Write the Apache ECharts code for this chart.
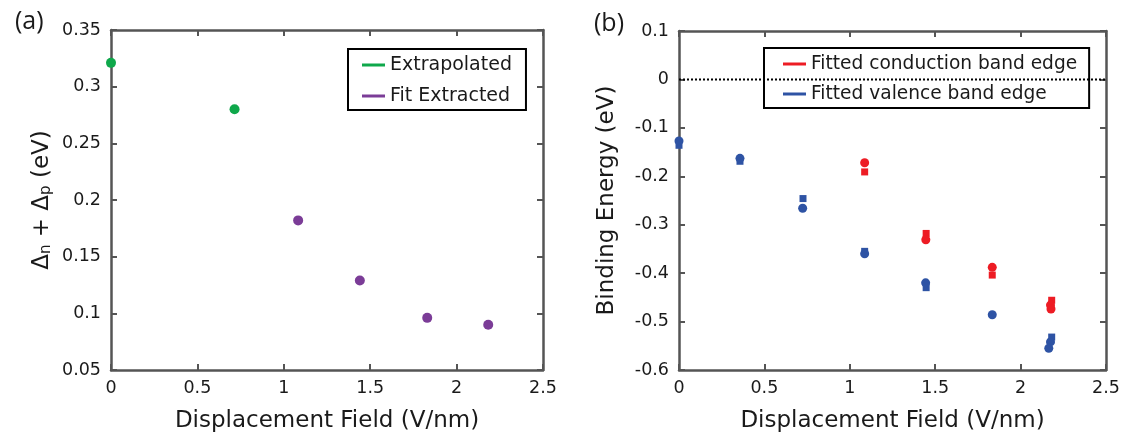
<!DOCTYPE html>
<html>
<head>
<meta charset="utf-8">
<script src="https://cdn.jsdelivr.net/npm/echarts@6/dist/echarts.min.js"></script>
<style>
html,body{margin:0;padding:0;background:#fff;}
#chart{width:1135px;height:441px;}
</style>
</head>
<body>
<div id="chart"></div>
<script>
// ---- data ----
const xTicks = [0, 0.5, 1, 1.5, 2, 2.5];
const yTicksA = [0.05, 0.1, 0.15, 0.2, 0.25, 0.3, 0.35];
const yTicksB = [-0.6, -0.5, -0.4, -0.3, -0.2, -0.1, 0, 0.1];

// panel (a)
const fieldExtrap = [0, 0.715];
const gapExtrap = [0.321, 0.280];
const fieldFit = [1.083, 1.440, 1.830, 2.183];
const gapFit = [0.182, 0.129, 0.096, 0.090];

// panel (b)
const cbCircleField = [1.087, 1.445, 1.834, 2.175, 2.178];
const cbCircleE = [-0.172, -0.331, -0.388, -0.466, -0.474];
const cbSquareField = [1.087, 1.447, 1.834, 2.182];
const cbSquareE = [-0.191, -0.318, -0.404, -0.456];
const vbCircleField = [0, 0.357, 0.724, 1.087, 1.444, 1.834, 2.175, 2.165];
const vbCircleE = [-0.127, -0.163, -0.266, -0.360, -0.420, -0.486, -0.542, -0.555];
const vbSquareField = [0, 0.357, 0.726, 1.087, 1.447, 2.182];
const vbSquareE = [-0.136, -0.169, -0.246, -0.355, -0.430, -0.532];
const zeroLineField = [0, 2.5];
const zeroLineE = [0, 0];

const legendA = ['Extrapolated', 'Fit Extracted'];
const legendB = ['Fitted conduction band edge', 'Fitted valence band edge'];

// ---- helpers ----
const zip = (xs, ys) => xs.map((x, i) => [x, ys[i]]);
const FONT = 'DejaVu Sans';
const TXT = '#1a1a1a';
const FRAME = '#555555';
const step = a => +(a[1] - a[0]).toFixed(6);

function xAx(gridIndex, pos) {
  const main = pos === 'bottom';
  return {
    type: 'value', gridIndex, position: pos,
    min: xTicks[0], max: xTicks[xTicks.length - 1], interval: step(xTicks),
    name: main ? 'Displacement Field (V/nm)' : '',
    nameLocation: 'middle', nameGap: 40,
    nameTextStyle: {fontFamily: FONT, fontSize: 23, color: TXT},
    axisLine: {show: true, onZero: false, lineStyle: {color: FRAME, width: 2.5}},
    axisTick: {show: true, inside: true, length: 6, lineStyle: {color: FRAME, width: 2}},
    axisLabel: {show: main, margin: 9, fontFamily: FONT, fontSize: 17.5, color: TXT},
    splitLine: {show: false}
  };
}
function yAx(gridIndex, pos, ticks, name, nameOpt) {
  const main = pos === 'left';
  return Object.assign({
    type: 'value', gridIndex, position: pos,
    min: ticks[0], max: ticks[ticks.length - 1], interval: step(ticks),
    name: main ? name : '',
    nameLocation: 'middle', nameRotate: 90,
    axisLine: {show: true, onZero: false, lineStyle: {color: FRAME, width: 2.5}},
    axisTick: {show: true, inside: true, length: 6, lineStyle: {color: FRAME, width: 2}},
    axisLabel: {show: main, margin: 10, fontFamily: FONT, fontSize: 17.5, color: TXT},
    splitLine: {show: false}
  }, nameOpt || {});
}

const chart = echarts.init(document.getElementById('chart'), null, {renderer: 'canvas'});
const option = {
  backgroundColor: '#fff',
  animation: false,
  title: [
    {text: '(a)', left: 10, top: 4, textStyle: {fontFamily: 'Open Sans', fontSize: 25, fontWeight: 'normal', color: TXT}},
    {text: '(b)', left: 589, top: 6, textStyle: {fontFamily: 'Open Sans', fontSize: 25, fontWeight: 'normal', color: TXT}}
  ],
  grid: [
    {left: 111, top: 30, width: 432, height: 340, outerBoundsMode: 'none'},
    {left: 679, top: 31, width: 427, height: 339, outerBoundsMode: 'none'}
  ],
  xAxis: [xAx(0, 'bottom'), xAx(0, 'top'), xAx(1, 'bottom'), xAx(1, 'top')],
  yAxis: [
    yAx(0, 'left', yTicksA, 'Δ{sub|n} + Δ{sub|p} (eV)', {
      nameGap: 57,
      nameTextStyle: {fontFamily: FONT, fontSize: 23, color: TXT,
        rich: {sub: {fontFamily: FONT, fontSize: 15, color: TXT, padding: [9, 0, 0, 0]}}}
    }),
    yAx(0, 'right', yTicksA, ''),
    yAx(1, 'left', yTicksB, 'Binding Energy (eV)', {
      nameGap: 60,
      nameTextStyle: {fontFamily: FONT, fontSize: 23, color: TXT}
    }),
    yAx(1, 'right', yTicksB, '')
  ],
  legend: [
    {
      data: legendA, left: 348, top: 49, orient: 'vertical',
      icon: 'rect', itemWidth: 23, itemHeight: 3, itemGap: 9, itemTextGap: 11,
      padding: [5, 14, 3, 14],
      borderColor: '#000', borderWidth: 2, backgroundColor: 'transparent',
      textStyle: {fontFamily: FONT, fontSize: 19, color: TXT, lineHeight: 22},
      selectedMode: false
    },
    {
      data: legendB, left: 764, top: 48, orient: 'vertical',
      icon: 'rect', itemWidth: 23, itemHeight: 3, itemGap: 8, itemTextGap: 12,
      padding: [5, 12, 3, 19],
      borderColor: '#000', borderWidth: 2, backgroundColor: 'transparent',
      textStyle: {fontFamily: FONT, fontSize: 18.6, color: TXT, lineHeight: 22},
      selectedMode: false
    }
  ],
  series: [
    {name: legendA[0], type: 'scatter', xAxisIndex: 0, yAxisIndex: 0, symbol: 'circle', symbolSize: 10,
      itemStyle: {color: '#0fa84b', opacity: 1}, data: zip(fieldExtrap, gapExtrap)},
    {name: legendA[1], type: 'scatter', xAxisIndex: 0, yAxisIndex: 0, symbol: 'circle', symbolSize: 10,
      itemStyle: {color: '#7b3c97', opacity: 1}, data: zip(fieldFit, gapFit)},
    {name: 'zero', type: 'line', xAxisIndex: 2, yAxisIndex: 2, symbol: 'none', z: 10,
      lineStyle: {color: '#000', width: 2, type: [2, 2]}, data: zip(zeroLineField, zeroLineE)},
    {name: legendB[0], type: 'scatter', xAxisIndex: 2, yAxisIndex: 2, symbol: 'rect', symbolSize: 7,
      itemStyle: {color: '#ed1c24', opacity: 1}, data: zip(cbSquareField, cbSquareE)},
    {name: legendB[0], type: 'scatter', xAxisIndex: 2, yAxisIndex: 2, symbol: 'circle', symbolSize: 9,
      itemStyle: {color: '#ed1c24', opacity: 1}, data: zip(cbCircleField, cbCircleE)},
    {name: legendB[1], type: 'scatter', xAxisIndex: 2, yAxisIndex: 2, symbol: 'rect', symbolSize: 7,
      itemStyle: {color: '#2e53a4', opacity: 1}, data: zip(vbSquareField, vbSquareE)},
    {name: legendB[1], type: 'scatter', xAxisIndex: 2, yAxisIndex: 2, symbol: 'circle', symbolSize: 9,
      itemStyle: {color: '#2e53a4', opacity: 1}, data: zip(vbCircleField, vbCircleE)}
  ]
};
chart.setOption(option);
</script>
</body>
</html>
